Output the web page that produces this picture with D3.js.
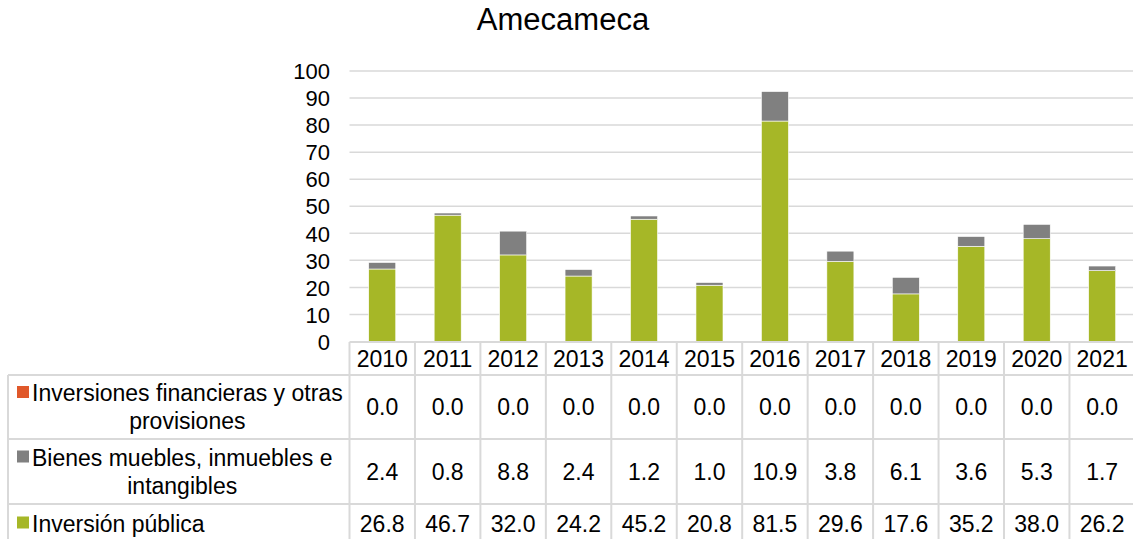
<!DOCTYPE html>
<html>
<head>
<meta charset="utf-8">
<script src="https://cdn.jsdelivr.net/npm/d3@7"></script>
<style>
  body { margin: 0; background: #fff; }
  svg { display: block; font-family: "Liberation Sans", Arial, sans-serif; }
</style>
</head>
<body>
<div id="chart"></div>
<script>
    // data
    var years = ["2010", "2011", "2012", "2013", "2014", "2015", "2016", "2017", "2018", "2019", "2020", "2021"];
    var inversionPublica = [26.8, 46.7, 32.0, 24.2, 45.2, 20.8, 81.5, 29.6, 17.6, 35.2, 38.0, 26.2];
    var bienesMuebles = [2.4, 0.8, 8.8, 2.4, 1.2, 1.0, 10.9, 3.8, 6.1, 3.6, 5.3, 1.7];
    var inversionesFin = [0.0, 0.0, 0.0, 0.0, 0.0, 0.0, 0.0, 0.0, 0.0, 0.0, 0.0, 0.0];
    var yTicks = [0, 10, 20, 30, 40, 50, 60, 70, 80, 90, 100];

    // stack order bottom -> top
    var series = [
        { key: "pub", lines: ["Inversión pública"], values: inversionPublica, color: "#a6b727" },
        { key: "bie", lines: ["Bienes muebles, inmuebles e", "intangibles"], values: bienesMuebles, color: "#808080" },
        { key: "fin", lines: ["Inversiones financieras y otras", "provisiones"], values: inversionesFin, color: "#e0582a" }
    ];

    var width = 1133,
        height = 539,
        left = 349.5,
        colW = 65.45,
        right = left + colW * years.length;
    var gridColor = "#d9d9d9";
    var fontSize = 23;

    var svg = d3.select("#chart").append("svg")
        .attr("width", width)
        .attr("height", height);

    var y = d3.scaleLinear().domain([0, 100]).range([341.5, 71]);
    var col = d3.scaleBand().domain(years).range([left, right]).padding(0);
    var x = d3.scaleBand().domain(years).range([left, right])
        .paddingInner(0.587).paddingOuter(0.587 / 2);

    // title
    svg.append("text")
        .attr("x", 563)
        .attr("y", 30)
        .attr("text-anchor", "middle")
        .style("font-size", "31px")
        .style("fill", "#000")
        .text("Amecameca");

    // gridlines
    svg.append("g").selectAll("line")
        .data(yTicks.slice(1))
        .enter().append("line")
        .attr("x1", left).attr("x2", width)
        .attr("y1", function (d) { return y(d); })
        .attr("y2", function (d) { return y(d); })
        .style("stroke", gridColor)
        .style("stroke-width", 1.5);

    // y axis labels
    var yAxis = d3.axisLeft(y).tickValues(yTicks).tickSize(0).tickPadding(0);
    var ya = svg.append("g")
        .attr("transform", "translate(330,0)")
        .call(yAxis);
    ya.select(".domain").remove();
    ya.selectAll("text")
        .style("font-size", "22px")
        .style("font-family", "Liberation Sans, Arial, sans-serif")
        .style("fill", "#000")
        .attr("dy", "0.35em");

    // stacked bars
    var stackData = years.map(function (yr, i) {
        var o = { year: yr };
        series.forEach(function (s) { o[s.key] = s.values[i]; });
        return o;
    });
    var stack = d3.stack().keys(series.map(function (s) { return s.key; }));
    var layers = stack(stackData);

    svg.append("g").selectAll("g")
        .data(layers)
        .enter().append("g")
        .style("fill", function (d, i) { return series[i].color; })
        .selectAll("rect")
        .data(function (d) { return d; })
        .enter().append("rect")
        .attr("x", function (d) { return x(d.data.year); })
        .attr("width", x.bandwidth())
        .attr("y", function (d) { return y(d[1]); })
        .attr("height", function (d) { return y(d[0]) - y(d[1]); })
        .style("stroke", "#fff")
        .style("stroke-width", 0.6);

    // data table
    var headTop = 342, rowTops = [375, 439, 504, 545];
    var tableRows = series.slice().reverse();
    var t = svg.append("g");

    // horizontal lines
    t.append("line")
        .attr("x1", left).attr("x2", width)
        .attr("y1", headTop).attr("y2", headTop);
    rowTops.forEach(function (ry) {
        t.append("line")
            .attr("x1", 8).attr("x2", width)
            .attr("y1", ry).attr("y2", ry);
    });
    // vertical lines
    t.append("line")
        .attr("x1", 8).attr("x2", 8)
        .attr("y1", rowTops[0]).attr("y2", height);
    years.forEach(function (yr) {
        t.append("line")
            .attr("x1", col(yr)).attr("x2", col(yr))
            .attr("y1", headTop).attr("y2", height);
    });
    t.append("line")
        .attr("x1", right).attr("x2", right)
        .attr("y1", headTop).attr("y2", height);
    t.selectAll("line")
        .style("stroke", gridColor)
        .style("stroke-width", 2);

    // header years
    t.selectAll(".yr")
        .data(years)
        .enter().append("text")
        .attr("class", "yr")
        .attr("x", function (d) { return col(d) + col.bandwidth() / 2; })
        .attr("y", (headTop + rowTops[0]) / 2)
        .attr("dy", "0.35em")
        .attr("text-anchor", "middle")
        .style("font-size", fontSize + "px")
        .text(function (d) { return d; });

    // rows: legend key + values
    tableRows.forEach(function (s, r) {
        var top = rowTops[r], bottom = rowTops[r + 1];
        var mid = (top + bottom) / 2;
        if (r === tableRows.length - 1) mid = 523.5;
        var g = t.append("g");

        var lineH = 28;
        var firstY = mid - (s.lines.length - 1) * lineH / 2;
        var first = g.append("text")
            .attr("x", 32)
            .attr("y", firstY)
            .attr("dy", "0.35em")
            .style("font-size", fontSize + "px")
            .text(s.lines[0]);
        var w = first.node().getComputedTextLength();
        s.lines.slice(1).forEach(function (ln, k) {
            g.append("text")
                .attr("x", 32 + w / 2)
                .attr("y", firstY + (k + 1) * lineH)
                .attr("dy", "0.35em")
                .attr("text-anchor", "middle")
                .style("font-size", fontSize + "px")
                .text(ln);
        });
        g.append("rect")
            .attr("x", 17)
            .attr("y", firstY - 7)
            .attr("width", 12)
            .attr("height", 12)
            .style("fill", s.color);

        g.selectAll(".val")
            .data(s.values)
            .enter().append("text")
            .attr("class", "val")
            .attr("x", function (d, i) { return col(years[i]) + col.bandwidth() / 2; })
            .attr("y", mid)
            .attr("dy", "0.35em")
            .attr("text-anchor", "middle")
            .style("font-size", fontSize + "px")
            .text(function (d) { return d.toFixed(1); });
    });
</script>
</body>
</html>
